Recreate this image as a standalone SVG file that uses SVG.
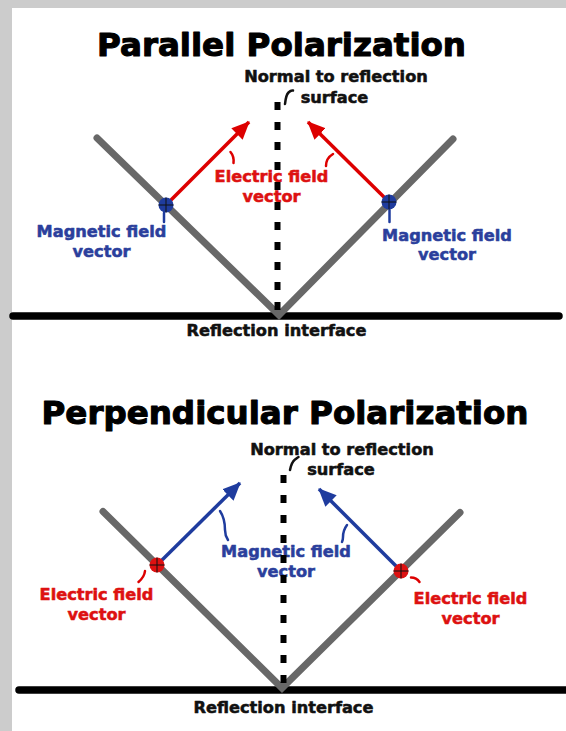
<svg xmlns="http://www.w3.org/2000/svg" width="566" height="731" viewBox="0 0 566 731">
<style>
.t{font-family:"DejaVu Sans","Liberation Sans",sans-serif;font-weight:bold;text-anchor:middle;stroke-linejoin:round}
.title{font-size:32.5px;fill:#000;stroke:#000;stroke-width:1.1}
.lbl{font-size:16.2px;stroke-width:0.55}
.k{fill:#111;stroke:#111}
.r{fill:#dd1111;stroke:#dd1111}
.b{fill:#2b3f9c;stroke:#2b3f9c}
.surf{stroke:#000;stroke-width:7.5;stroke-linecap:round;fill:none}
.arm{stroke:#686868;stroke-width:7;stroke-linecap:round;fill:none}
.norm{stroke:#000;stroke-width:6;stroke-dasharray:8 12;fill:none}
.ra{stroke:#dd0000;stroke-width:3.5;fill:none;marker-end:url(#hr)}
.ba{stroke:#1f3c9e;stroke-width:3.5;fill:none;marker-end:url(#hb)}
.sq{fill:none;stroke-width:2.5;stroke-linecap:round}
.sk{stroke:#111}
.sr{stroke:#dd0000}
.sb{stroke:#1f3c9e}
.cr{stroke:#111;stroke-width:1}
</style>
<defs>
<marker id="hr" markerUnits="userSpaceOnUse" markerWidth="18" markerHeight="16" refX="17" refY="8" orient="auto" viewBox="0 0 18 16">
<path d="M0,0 L18,8 L0,16 Z" fill="#dd0000"/>
</marker>
<marker id="hb" markerUnits="userSpaceOnUse" markerWidth="18" markerHeight="16" refX="17" refY="8" orient="auto" viewBox="0 0 18 16">
<path d="M0,0 L18,8 L0,16 Z" fill="#1f3c9e"/>
</marker>
</defs>
<rect x="0" y="0" width="566" height="731" fill="#ffffff"/>
<rect x="0" y="0" width="566" height="8" fill="#cccccc"/>
<rect x="0" y="0" width="12" height="731" fill="#cccccc"/>

<!-- Top panel -->
<g id="parallel-title"><text class="t title" x="281.5" y="56">Parallel Polarization</text></g>
<g id="parallel-surface">
<line class="surf" x1="13" y1="316" x2="559" y2="316"/>
<text class="t lbl k" x="276.5" y="336">Reflection interface</text>
</g>
<g id="parallel-rays">
<polyline class="arm" points="97,138 279,315 453,139"/>
</g>
<g id="parallel-electric">
<text class="t lbl r" x="271.5" y="182">Electric field</text>
<text class="t lbl r" x="271.5" y="202">vector</text>
</g>
<g id="parallel-normal">
<line class="norm" x1="277.5" y1="102" x2="277.5" y2="314"/>
<text class="t lbl k" x="336" y="82">Normal to reflection</text>
<text class="t lbl k" x="334.5" y="103">surface</text>
</g>
<g id="parallel-connectors">
<line class="ra" x1="166" y1="205" x2="249" y2="122"/>
<line class="ra" x1="389" y1="202" x2="308" y2="122"/>
<path class="sq sk" d="M285,104 C285.5,99 286,95 288.5,92.5 C290,91 291.5,90 293,90.5"/>
<path class="sq sr" d="M230.5,152 C233,155 234,159 233.5,163"/>
<path class="sq sr" d="M333,154 C328,157 326,161 326,166"/>
<line class="sq sb" x1="164" y1="213" x2="164" y2="222"/>
<line class="sq sb" x1="389.5" y1="210" x2="389.5" y2="222"/>
</g>
<g id="parallel-left-magnetic">
<circle cx="166" cy="205" r="7.5" fill="#1f3c9e"/>
<line class="cr" x1="158.5" y1="205" x2="173.5" y2="205"/>
<line class="cr" x1="166" y1="197.5" x2="166" y2="212.5"/>
<text class="t lbl b" x="101.5" y="237">Magnetic field</text>
<text class="t lbl b" x="101.5" y="256.5">vector</text>
</g>
<g id="parallel-right-magnetic">
<circle cx="389" cy="202" r="7.5" fill="#1f3c9e"/>
<line class="cr" x1="381.5" y1="202" x2="396.5" y2="202"/>
<line class="cr" x1="389" y1="194.5" x2="389" y2="209.5"/>
<text class="t lbl b" x="447" y="240.5">Magnetic field</text>
<text class="t lbl b" x="447" y="260">vector</text>
</g>

<!-- Bottom panel -->
<g id="perp-title"><text class="t title" x="285" y="424">Perpendicular Polarization</text></g>
<g id="perp-surface">
<line class="surf" x1="19" y1="690" x2="580" y2="690"/>
<text class="t lbl k" x="283.5" y="713">Reflection interface</text>
</g>
<g id="perp-rays">
<polyline class="arm" points="103,511.5 282,688 460,512.5"/>
</g>
<g id="perp-magnetic">
<text class="t lbl b" x="286" y="557">Magnetic field</text>
<text class="t lbl b" x="286" y="577">vector</text>
</g>
<g id="perp-normal">
<line class="norm" x1="283.5" y1="475" x2="283.5" y2="686"/>
<text class="t lbl k" x="342" y="455">Normal to reflection</text>
<text class="t lbl k" x="341" y="475">surface</text>
</g>
<g id="perp-connectors">
<line class="ba" x1="157" y1="565" x2="240" y2="483"/>
<line class="ba" x1="401" y1="571" x2="319" y2="489"/>
<path class="sq sk" d="M290,470 C291,465 293,461 295,459.5 C296.5,458.5 297.5,457.5 298.5,457"/>
<path class="sq sb" d="M220,511 C224,517 225,524 225,530 C225,534 226,537 228,540"/>
<path class="sq sb" d="M347,525 C344,529 343,533 343,537 C343,539 342.5,541 342,542"/>
<path class="sq sr" d="M145,571 C144.5,576 142,579 138.5,582"/>
<path class="sq sr" d="M411,577.5 C414.5,577.5 417.5,579 419.5,582"/>
</g>
<g id="perp-left-electric">
<circle cx="157" cy="565" r="7.5" fill="#dd1111"/>
<line class="cr" x1="149.5" y1="565" x2="164.5" y2="565"/>
<line class="cr" x1="157" y1="557.5" x2="157" y2="572.5"/>
<text class="t lbl r" x="96.5" y="600">Electric field</text>
<text class="t lbl r" x="96.5" y="620">vector</text>
</g>
<g id="perp-right-electric">
<circle cx="401" cy="571" r="7.5" fill="#dd1111"/>
<line class="cr" x1="393.5" y1="571" x2="408.5" y2="571"/>
<line class="cr" x1="401" y1="563.5" x2="401" y2="578.5"/>
<text class="t lbl r" x="470.5" y="603.5">Electric field</text>
<text class="t lbl r" x="470.5" y="623.5">vector</text>
</g>
</svg>
